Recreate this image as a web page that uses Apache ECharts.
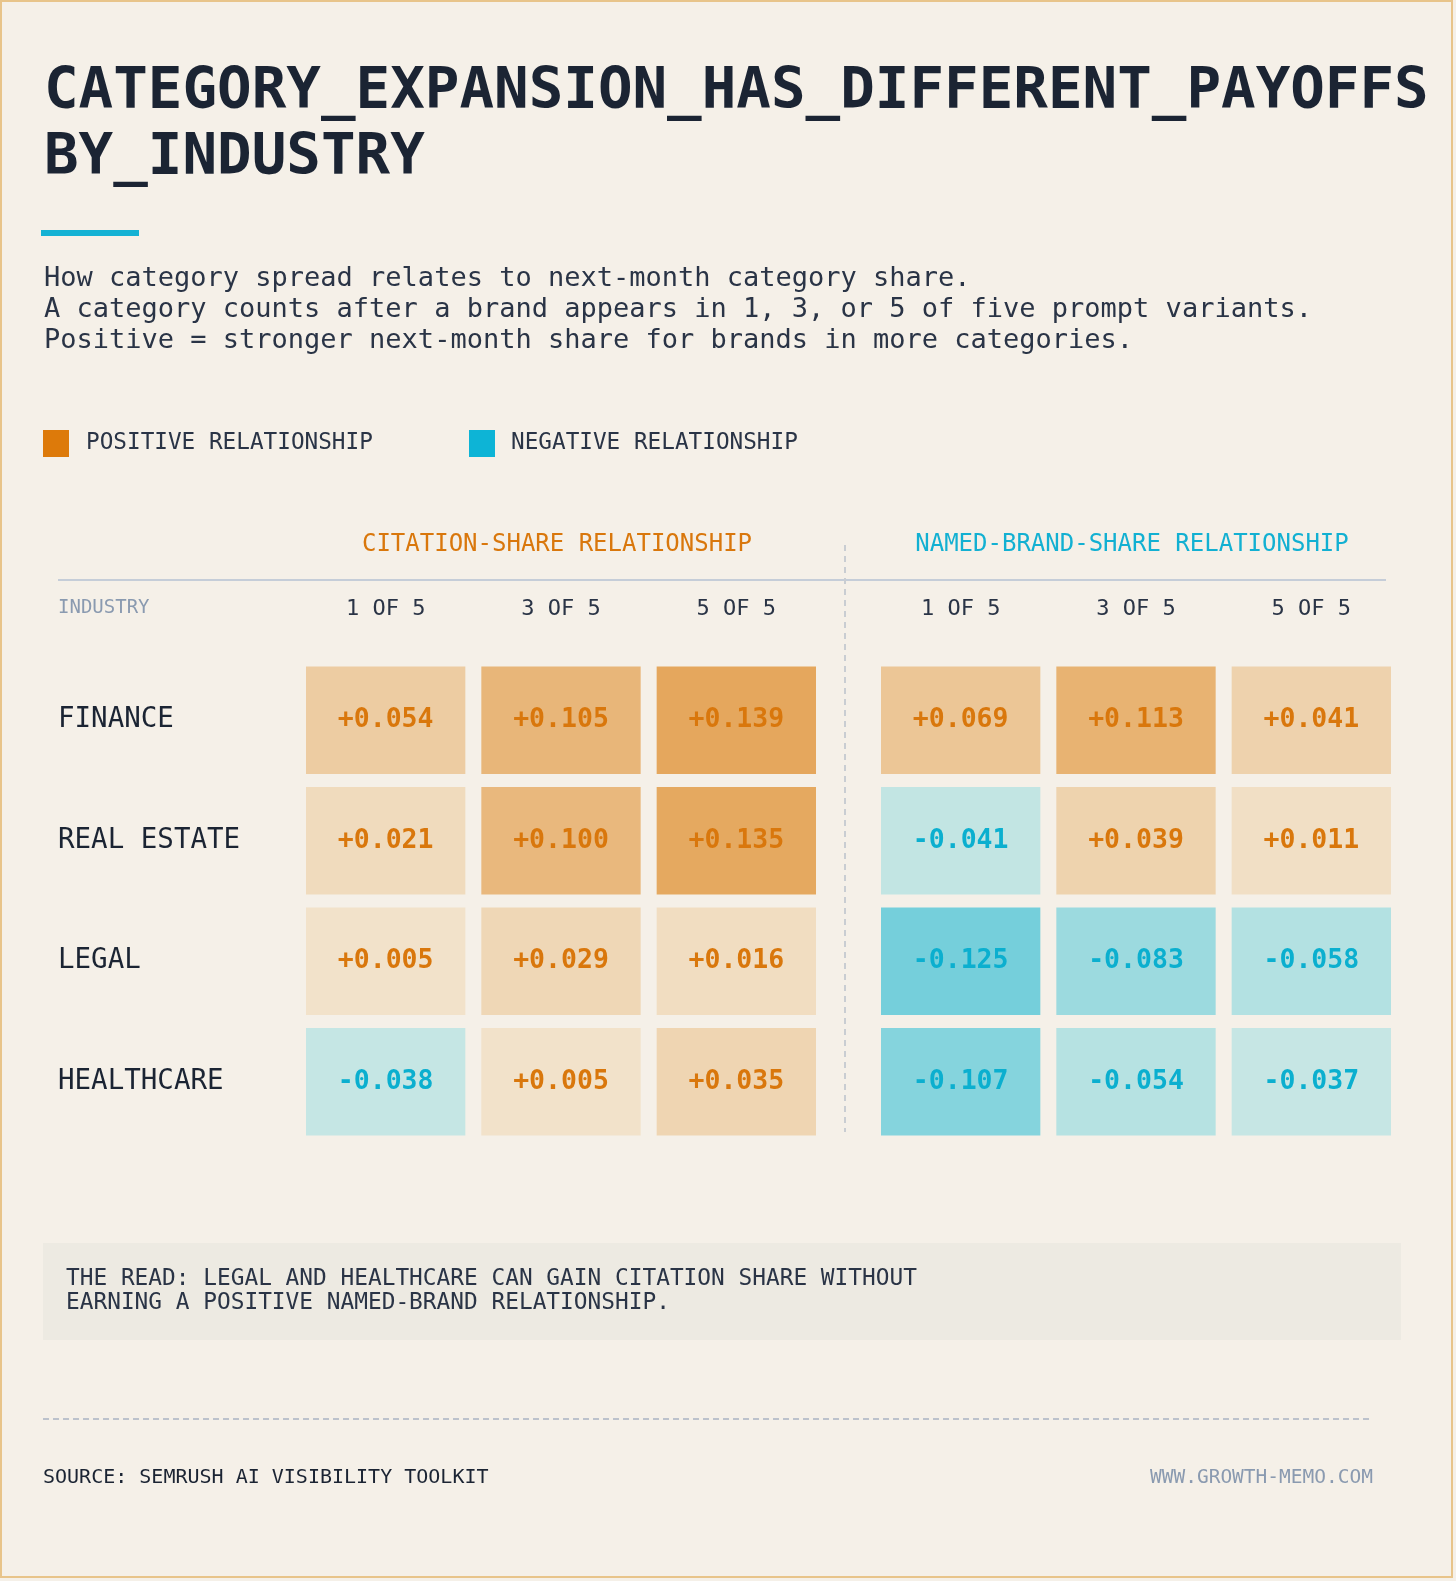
<!DOCTYPE html>
<html><head><meta charset="utf-8">
<script src="https://cdn.jsdelivr.net/npm/echarts@6/dist/echarts.min.js"></script>
<style>html,body{margin:0;padding:0;background:#F5F0E8}#c{width:1456px;height:1581px}</style>
</head><body><div id="c"></div>
<script>
const industries = ['FINANCE','REAL ESTATE','LEGAL','HEALTHCARE'];
const columns = ['1 OF 5','3 OF 5','5 OF 5'];
const citationShare = [
  [0.054, 0.105, 0.139],
  [0.021, 0.100, 0.135],
  [0.005, 0.029, 0.016],
  [-0.038, 0.005, 0.035]
];
const namedBrandShare = [
  [0.069, 0.113, 0.041],
  [-0.041, 0.039, 0.011],
  [-0.125, -0.083, -0.058],
  [-0.107, -0.054, -0.037]
];
const FONT = '"DejaVu Sans Mono", "Liberation Mono", monospace';
function mix(a,b,t){const pa=[1,3,5].map(i=>parseInt(a.substr(i,2),16)),pb=[1,3,5].map(i=>parseInt(b.substr(i,2),16));return 'rgb('+pa.map((v,i)=>Math.round(v+(pb[i]-v)*t)).join(',')+')';}
function cellColor(v){const t=Math.min(Math.abs(v)/0.14,1);return v>=0?mix('#F2E4CE','#E5A75C',t):mix('#C8E7E4','#70CEDB',Math.max(0,(Math.abs(v)-0.035)/0.095));}
function toData(m){const d=[];m.forEach((row,r)=>row.forEach((v,c)=>d.push([c,r,v])));return d;}
function series(idx,m){return {type:'custom',xAxisIndex:idx,yAxisIndex:idx,data:toData(m),
  renderItem:function(p,api){const c=api.coord([api.value(0),api.value(1)]);const s=api.size([1,1]);const w=s[0]-16,h=s[1]-13;const v=api.value(2);
   return {type:'group',children:[{type:'rect',shape:{x:c[0]-w/2,y:c[1]-h/2,width:w,height:h},style:{fill:cellColor(v)}},
   {type:'text',x:c[0],y:c[1],style:{text:(v>=0?'+':'-')+Math.abs(v).toFixed(3),fill:v>=0?'#D9770C':'#0BAFCF',font:'bold 26.5px '+FONT,align:'center',verticalAlign:'middle'}}]};}};}
function xAx(i){return {type:'category',gridIndex:i,data:columns,position:'top',axisLine:{show:false},axisTick:{show:false},axisLabel:{margin:40,color:'#2A3446',fontFamily:FONT,fontSize:22}};}
function yAx(i){return {type:'category',gridIndex:i,data:industries,inverse:true,axisLine:{show:false},axisTick:{show:false},axisLabel:{show:i===0,align:'left',margin:240,color:'#1B2433',fontFamily:FONT,fontSize:27.5}};}
const T=(x,y,style)=>({type:'text',x,y,style});
const chart=echarts.init(document.getElementById('c'));
chart.setOption({
  backgroundColor:'#F5F0E8',animation:false,
  grid:[{left:298,top:660,width:526,height:482},{left:873,top:660,width:526,height:482}],
  xAxis:[xAx(0),xAx(1)],yAxis:[yAx(0),yAx(1)],
  series:[series(0,citationShare),series(1,namedBrandShare)],
  graphic:[
    {type:'rect',shape:{x:1,y:1,width:1451,height:1576},style:{fill:null,stroke:'#E8C48A',lineWidth:2}},
    T(44,64,{text:'CATEGORY_EXPANSION_HAS_DIFFERENT_PAYOFFS',font:'bold 57.5px '+FONT,fill:'#1B2433'}),
    T(44,130,{text:'BY_INDUSTRY',font:'bold 57.5px '+FONT,fill:'#1B2433'}),
    {type:'rect',shape:{x:41,y:230,width:98,height:6},style:{fill:'#14B2D4'}},
    T(44,263,{text:'How category spread relates to next-month category share.\nA category counts after a brand appears in 1, 3, or 5 of five prompt variants.\nPositive = stronger next-month share for brands in more categories.',font:'27px '+FONT,fill:'#2A3446',lineHeight:31}),
    {type:'rect',shape:{x:43,y:430,width:26,height:27},style:{fill:'#DD7A0A'}},
    T(86,432,{text:'POSITIVE RELATIONSHIP',font:'22.7px '+FONT,fill:'#2A3446'}),
    {type:'rect',shape:{x:469,y:430,width:26,height:27},style:{fill:'#0DB4D6'}},
    T(511,432,{text:'NEGATIVE RELATIONSHIP',font:'22.7px '+FONT,fill:'#2A3446'}),
    T(557,545,{text:'CITATION-SHARE RELATIONSHIP',font:'24px '+FONT,fill:'#D9770C',align:'center',verticalAlign:'middle'}),
    T(1132,545,{text:'NAMED-BRAND-SHARE RELATIONSHIP',font:'24px '+FONT,fill:'#12B0D2',align:'center',verticalAlign:'middle'}),
    {type:'line',shape:{x1:58,y1:580,x2:1386,y2:580},style:{stroke:'#C5CDD8',lineWidth:2}},
    {type:'line',shape:{x1:845,y1:545,x2:845,y2:1132},style:{stroke:'#C9CDD2',lineWidth:2,lineDash:[6,5]}},
    T(58,608,{text:'INDUSTRY',font:'19px '+FONT,fill:'#8A9AB0',verticalAlign:'middle'}),
    {type:'rect',shape:{x:43,y:1243,width:1358,height:97},style:{fill:'#EDEAE2'}},
    T(66,1267,{text:'THE READ: LEGAL AND HEALTHCARE CAN GAIN CITATION SHARE WITHOUT\nEARNING A POSITIVE NAMED-BRAND RELATIONSHIP.',font:'22.8px '+FONT,fill:'#2A3446',lineHeight:24}),
    {type:'line',shape:{x1:43,y1:1419,x2:1373,y2:1419},style:{stroke:'#A9B3C2',lineWidth:1.5,lineDash:[6,4]}},
    T(43,1478,{text:'SOURCE: SEMRUSH AI VISIBILITY TOOLKIT',font:'20px '+FONT,fill:'#1B2433',verticalAlign:'middle'}),
    T(1373,1478,{text:'WWW.GROWTH-MEMO.COM',font:'19.5px '+FONT,fill:'#8A9AB0',align:'right',verticalAlign:'middle'})
  ]
});
</script></body></html>
